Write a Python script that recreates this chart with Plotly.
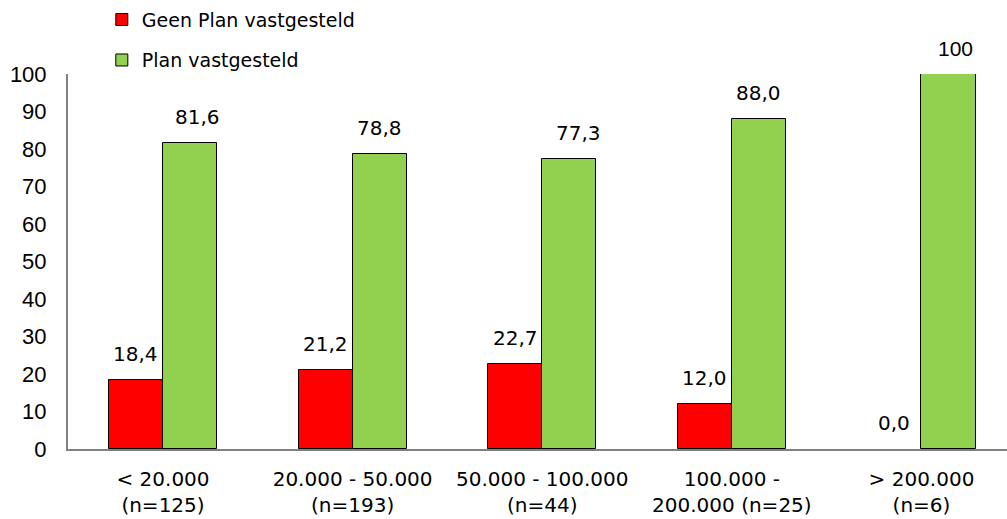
import plotly.graph_objects as go

categories = ["< 20.000<br>(n=125)", "20.000 - 50.000<br>(n=193)", "50.000 - 100.000<br>(n=44)",
              "100.000 -<br>200.000 (n=25)", "> 200.000<br>(n=6)"]
geen_plan = [18.4, 21.2, 22.7, 12.0, 0.0]
plan = [81.6, 78.8, 77.3, 88.0, 100.0]
geen_labels = ["18,4", "21,2", "22,7", "12,0", "0,0"]
plan_labels = ["81,6", "78,8", "77,3", "88,0", "100"]
y_ticks = [0, 10, 20, 30, 40, 50, 60, 70, 80, 90, 100]

# label nudges (pixels), style only
plan_label_xshift = [7, 0, 9, 0, 7]

xpos = list(range(len(categories)))
W = 0.285
RED = "#FF0000"
GREEN = "#92D050"
FONT = "DejaVu Sans"

fig = go.Figure()
fig.add_trace(go.Bar(x=xpos, y=geen_plan, width=W, offset=-W, name="Geen Plan vastgesteld",
                     marker=dict(color=RED, line=dict(color="#000000",
                                                      width=[1 if v > 0 else 0 for v in geen_plan])),
                     legend="legend"))
fig.add_trace(go.Bar(x=xpos, y=plan, width=W, offset=0, name="Plan vastgesteld",
                     marker=dict(color=GREEN, line=dict(color="#000000",
                                                        width=[1 if v > 0 else 0 for v in plan])),
                     legend="legend2"))

anns = []
for i, (v, t) in enumerate(zip(geen_plan, geen_labels)):
    anns.append(dict(x=xpos[i] - W / 2, y=v, xref="x", yref="y", text=t, showarrow=False,
                     yanchor="middle", yshift=26, font=dict(family=FONT, size=20, color="#000")))
for i, (v, t) in enumerate(zip(plan, plan_labels)):
    fam = "Liberation Sans" if t == "100" else FONT
    anns.append(dict(x=xpos[i] + W / 2, y=v, xref="x", yref="y", text=t, showarrow=False,
                     yanchor="middle", yshift=26, xshift=plan_label_xshift[i],
                     font=dict(family=fam, size=20 if fam == FONT else 21, color="#000")))

fig.update_layout(
    width=1007, height=519,
    margin=dict(l=68, r=0, t=74, b=70, autoexpand=False),
    paper_bgcolor="white", plot_bgcolor="white",
    font=dict(family=FONT, size=20, color="#000"),
    bargap=0, showlegend=True,
    legend=dict(x=0.036, y=1.145, xanchor="left", yanchor="middle", bgcolor="rgba(0,0,0,0)",
                font=dict(family=FONT, size=19, color="#000")),
    legend2=dict(x=0.036, y=1.037, xanchor="left", yanchor="middle", bgcolor="rgba(0,0,0,0)",
                 font=dict(family=FONT, size=19, color="#000")),
    annotations=anns,
)
fig.update_xaxes(range=[-0.501, 4.451], tickvals=xpos, ticktext=categories, showgrid=False,
                 showline=True, linecolor="#808080", linewidth=2, ticks="", zeroline=False,
                 automargin=False, ticklabelstandoff=11,
                 tickfont=dict(family=FONT, size=20, color="#000"), fixedrange=True)
fig.update_yaxes(range=[0, 100], tickvals=y_ticks, showgrid=False, showline=True, linecolor="#808080",
                 linewidth=2, ticks="", zeroline=False, ticklabelstandoff=15, automargin=False,
                 tickfont=dict(family="Liberation Sans", size=22, color="#000"), fixedrange=True)

fig.write_html("out.html", config={"displayModeBar": False},
               post_script="document.body.style.margin='0';document.body.style.overflow='hidden';")
